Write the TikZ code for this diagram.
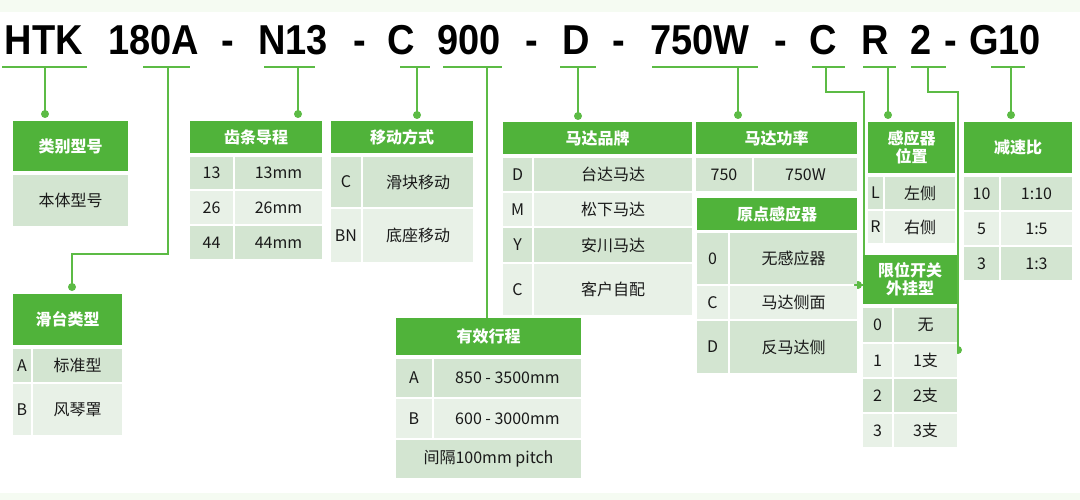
\documentclass[tikz,border=0pt]{standalone}
\usepackage{fontspec}
\setmainfont{Noto Sans CJK SC}
\newfontfamily\titlefont{Liberation Sans}
\usepackage{xcolor}

\definecolor{hdrgreen}{HTML}{50B33A}
\definecolor{wiregreen}{HTML}{5CBB45}
\definecolor{rowdark}{HTML}{D3E5D1}
\definecolor{rowlight}{HTML}{E8F1E7}
\definecolor{stripgreen}{HTML}{F5FBF2}

\newcommand{\tall}[1]{\scalebox{1}[1.1]{#1}}
% one filled cell: name, style, x0, y0, x1, y1, text
\newcommand{\boxcell}[7]{%
  \node[#2, minimum width={((#5)-(#3))*1pt}, minimum height={((#6)-(#4))*1pt}]
    (#1) at ({((#3)+(#5))/2},{((#4)+(#6))/2}) {#7};}
% one table row: name, style, x0, xmid, x1, y0, y1, key, value
\newcommand{\tabrow}[9]{%
  \boxcell{k-#1}{#2}{#3}{#6}{#4}{#7}{#8}%
  \boxcell{v-#1}{#2}{(#4+2)}{#6}{#5}{#7}{#9}}

\tikzset{
  hdr/.style={fill=hdrgreen, text=white, inner sep=0, align=center,
    font=\bfseries\fontsize{16}{17.5}\selectfont},
  darkrow/.style={fill=rowdark, inner sep=0, text=black!90,
    font=\fontsize{16}{18}\selectfont},
  lightrow/.style={darkrow, fill=rowlight},
  wire/.style={draw=wiregreen, line width=2.6pt},
  uline/.style={draw=wiregreen, line width=1.2pt},
  modelcode/.style={font=\titlefont\bfseries\fontsize{38}{40}\selectfont,
    anchor=base, inner sep=0}
}

\begin{document}
\begin{tikzpicture}[x=1pt, y=-1pt]
\useasboundingbox (0,0) rectangle (1080,500);
\fill[stripgreen] (0,0) rectangle (1080,12);
\fill[stripgreen] (0,493) rectangle (1080,500);

% model code
\node[modelcode] (c-htk) at (44,54.5) {\tall{HTK}};
\node[modelcode] (c-180a) at (154,54.5) {\tall{180A}};
\node[modelcode] (c-d1) at (228,54.5) {\tall{-}};
\node[modelcode] (c-n13) at (293,54.5) {\tall{N13}};
\node[modelcode] (c-d2) at (360,54.5) {\tall{-}};
\node[modelcode] (c-mv) at (401,54.5) {\tall{C}};
\node[modelcode] (c-900) at (469,54.5) {\tall{900}};
\node[modelcode] (c-d3) at (532,54.5) {\tall{-}};
\node[modelcode] (c-brand) at (576,54.5) {\tall{D}};
\node[modelcode] (c-d4) at (619,54.5) {\tall{-}};
\node[modelcode] (c-750w) at (700,54.5) {\tall{750W}};
\node[modelcode] (c-d5) at (781,54.5) {\tall{-}};
\node[modelcode] (c-org) at (823,54.5) {\tall{C}};
\node[modelcode] (c-pos) at (875,54.5) {\tall{R}};
\node[modelcode] (c-lim) at (921,54.5) {\tall{2}};
\node[modelcode] (c-d6) at (951,54.5) {\tall{-}};
\node[modelcode] (c-g10) at (1005,54.5) {\tall{G10}};

% underlines
\foreach \a/\b in {2/87, 143/190, 264/315, 400/430, 443/502, 560/596,
                   652/758, 812/845, 863/896, 911/946, 991/1025}
  \draw[uline] (\a,67) -- (\b,67);

% straight stems
\foreach \n/\x/\y in {htk/45/114, n13/298/114, mv/417/115, brand/578/116,
                      750w/738/115, pos/888/115, g10/1011/115} {
  \coordinate (u-\n) at (\x,67);
  \coordinate (p-\n) at (\x,\y);
  \draw[wire] (u-\n) -- (p-\n);
  \fill[wiregreen] (p-\n) circle[radius=4pt];
}

% bent stems
\coordinate (u-180a) at (168,67);
\coordinate (p-180a) at (72,287);
\draw[wire] (u-180a) -- (168,254) -| (p-180a);
\fill[wiregreen] (p-180a) circle[radius=4pt];

\coordinate (u-900) at (487,67);
\coordinate (p-900) at (487,320);
\draw[wire] (u-900) -- (p-900);

\coordinate (u-org) at (826,67);
\coordinate (p-org) at (858,285);
\draw[wire] (u-org) -- (826,92) -| (864,285) -- (p-org);
\fill[wiregreen] (p-org) circle[radius=4pt];

\coordinate (u-lim) at (928,67);
\coordinate (p-lim) at (958,350);
\draw[wire] (u-lim) -- (928,92) -| (p-lim);
\fill[wiregreen] (p-lim) circle[radius=4pt];

% 类别型号
\boxcell{h-type}{hdr}{13}{121}{128}{171}{类别型号}
\boxcell{v-type}{darkrow}{13}{175}{128}{226}{本体型号}

% 齿条导程
\boxcell{h-lead}{hdr}{190}{121}{322}{153}{齿条导程}
\tabrow{lead1}{darkrow}{190}{233}{322}{157}{189}{13}{13mm}
\tabrow{lead2}{lightrow}{190}{233}{322}{191}{224}{26}{26mm}
\tabrow{lead3}{darkrow}{190}{233}{322}{226}{259}{44}{44mm}

% 移动方式
\boxcell{h-mv}{hdr}{331}{121}{473}{153}{移动方式}
\tabrow{mv1}{darkrow}{331}{361}{473}{157}{207}{C}{滑块移动}
\tabrow{mv2}{lightrow}{331}{361}{473}{209}{262}{BN}{底座移动}

% 马达品牌
\boxcell{h-brand}{hdr}{503}{122}{692}{154}{马达品牌}
\tabrow{brand1}{darkrow}{503}{532}{692}{158}{191}{D}{台达马达}
\tabrow{brand2}{lightrow}{503}{532}{692}{193}{226}{M}{松下马达}
\tabrow{brand3}{darkrow}{503}{532}{692}{228}{262}{Y}{安川马达}
\tabrow{brand4}{lightrow}{503}{532}{692}{264}{315}{C}{客户自配}

% 马达功率
\boxcell{h-750w}{hdr}{696}{122}{857}{154}{马达功率}
\tabrow{pw1}{darkrow}{696}{752}{857}{158}{191}{750}{750W}

% 原点感应器
\boxcell{h-org}{hdr}{697}{198}{857}{230}{原点感应器}
\tabrow{org1}{darkrow}{697}{728}{857}{233}{284}{0}{无感应器}
\tabrow{org2}{lightrow}{697}{728}{857}{286}{319}{C}{马达侧面}
\tabrow{org3}{darkrow}{697}{728}{857}{321}{373}{D}{反马达侧}

% 感应器位置
\boxcell{h-pos}{hdr}{868}{122}{955}{173}{感应器\\位置}
\tabrow{pos1}{darkrow}{868}{883}{955}{177}{209}{L}{左侧}
\tabrow{pos2}{lightrow}{868}{883}{955}{211}{243}{R}{右侧}

% 限位开关外挂型
\boxcell{h-lim}{hdr}{863}{255}{957}{304}{限位开关\\外挂型}
\tabrow{lim0}{darkrow}{863}{892}{957}{308}{342}{0}{无}
\tabrow{lim1}{lightrow}{863}{892}{957}{344}{377}{1}{1支}
\tabrow{lim2}{darkrow}{863}{892}{957}{379}{412}{2}{2支}
\tabrow{lim3}{lightrow}{863}{892}{957}{414}{447}{3}{3支}

% 减速比
\boxcell{h-g10}{hdr}{964}{122}{1072}{173}{减速比}
\tabrow{gr1}{darkrow}{964}{999}{1072}{177}{210}{10}{1:10}
\tabrow{gr2}{lightrow}{964}{999}{1072}{212}{245}{5}{1:5}
\tabrow{gr3}{darkrow}{964}{999}{1072}{247}{280}{3}{1:3}

% 滑台类型
\boxcell{h-180a}{hdr}{13}{294}{122}{345}{滑台类型}
\tabrow{st1}{darkrow}{13}{31}{122}{349}{382}{A}{标准型}
\tabrow{st2}{lightrow}{13}{31}{122}{384}{435}{B}{风琴罩}

% 有效行程
\boxcell{h-900}{hdr}{396}{318}{581}{355}{有效行程}
\tabrow{str1}{darkrow}{396}{432}{581}{359}{397}{A}{850 - 3500mm}
\tabrow{str2}{lightrow}{396}{432}{581}{399}{438}{B}{600 - 3000mm}
\boxcell{v-pitch}{darkrow}{396}{440}{581}{478}{间隔100mm pitch}
\end{tikzpicture}
\end{document}
